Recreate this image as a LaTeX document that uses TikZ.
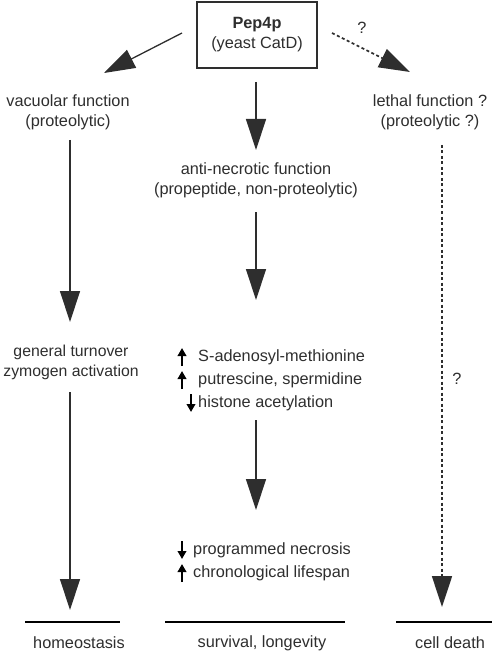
\documentclass[tikz,border=0pt]{standalone}
\usepackage{fontspec}
\setmainfont{Liberation Sans}
\usetikzlibrary{arrows.meta}
\definecolor{ink}{HTML}{2E2E2E}
\tikzset{
  x=1pt,y=-1pt,
  lbl/.style={inner sep=0pt,align=center,text=ink,font=\fontsize{16.3}{20}\selectfont},
  itm/.style={inner sep=0pt,anchor=west,text=ink,font=\fontsize{16.3}{20}\selectfont},
  bigarrow/.style={draw=ink,line width=1.3pt,-{Triangle[length=31pt,width=20pt]}},
  dasharrow/.style={bigarrow,dash pattern=on 3pt off 2.5pt,line width=1.7pt},
  updown/.style={draw=black,line width=2.6pt,-{Triangle[length=8pt,width=8.5pt]}},
  bar/.style={draw=black,line width=1.7pt}
}
\begin{document}
\begin{tikzpicture}
\useasboundingbox (0,0) rectangle (492,652);
% top box
\node[lbl,draw=ink,line width=1.3pt,minimum width=120pt,minimum height=66pt] (pep) at (257,35)
  {\textbf{Pep4p}\\(yeast CatD)};
% second row
\node[lbl] (vac) at (68,112) {vacuolar function\\(proteolytic)};
\node[lbl] (leth) at (430,112) {lethal function ?\\(proteolytic ?)};
\node[lbl] (anti) at (256,180) {anti-necrotic function\\(propeptide, non-proteolytic)};
% third row
\node[lbl,font=\fontsize{15.8}{20}\selectfont] (gen) at (71,362) {general turnover\\zymogen activation};
\node[itm] (sam) at (198,357) {S-adenosyl-methionine};
\node[itm] (put) at (198,380) {putrescine, spermidine};
\node[itm] (his) at (198,403) {histone acetylation};
\node[itm] (nec) at (193,550) {programmed necrosis};
\node[itm] (chr) at (193,573) {chronological lifespan};
% bottom labels
\node[lbl] (hom) at (79,643) {homeostasis};
\node[lbl] (surv) at (262,643) {survival, longevity};
\node[lbl] (death) at (450,643) {cell death};
% coordinates for arrow ends
\coordinate (lt) at (104,73);
\coordinate (rt) at (410,72);
\coordinate (ls) at (182,33);
\coordinate (rs) at (332,33);
\coordinate (q1) at (362,28);
% arrows from box
\draw[bigarrow] (ls) -- (lt);
\draw[dasharrow] (rs) -- (rt);
\node[lbl] (qa) at (q1) {?};
\coordinate (c1s) at (256,82);
\coordinate (c1e) at (256,150);
\draw[bigarrow] (c1s) -- (c1e);
% center column
\coordinate (c2s) at (256,212);
\coordinate (c2e) at (256,300);
\draw[bigarrow] (c2s) -- (c2e);
\coordinate (c3s) at (256,420);
\coordinate (c3e) at (256,510);
\draw[bigarrow] (c3s) -- (c3e);
% left column
\coordinate (l1s) at (70,140);
\coordinate (l1e) at (70,322);
\draw[bigarrow] (l1s) -- (l1e);
\coordinate (l2s) at (70,392);
\coordinate (l2e) at (70,610);
\draw[bigarrow] (l2s) -- (l2e);
% right column
\coordinate (r1s) at (442,145);
\coordinate (r1e) at (442,607);
\draw[dasharrow] (r1s) -- (r1e);
\node[lbl] (qb) at (457,379) {?};
% small up/down arrows
\coordinate (u1s) at (182,366); \coordinate (u1e) at (182,348);
\draw[updown] (u1s) -- (u1e);
\coordinate (u2s) at (182,389); \coordinate (u2e) at (182,371);
\draw[updown] (u2s) -- (u2e);
\coordinate (d1s) at (191,394); \coordinate (d1e) at (191,412);
\draw[updown] (d1s) -- (d1e);
\coordinate (d2s) at (182,541); \coordinate (d2e) at (182,559);
\draw[updown] (d2s) -- (d2e);
\coordinate (u3s) at (182,582); \coordinate (u3e) at (182,564);
\draw[updown] (u3s) -- (u3e);
% bars
\coordinate (b1a) at (25,622); \coordinate (b1b) at (120,622);
\draw[bar] (b1a) -- (b1b);
\coordinate (b2a) at (165,622); \coordinate (b2b) at (345,622);
\draw[bar] (b2a) -- (b2b);
\coordinate (b3a) at (396,622); \coordinate (b3b) at (492,622);
\draw[bar] (b3a) -- (b3b);
\end{tikzpicture}
\end{document}
